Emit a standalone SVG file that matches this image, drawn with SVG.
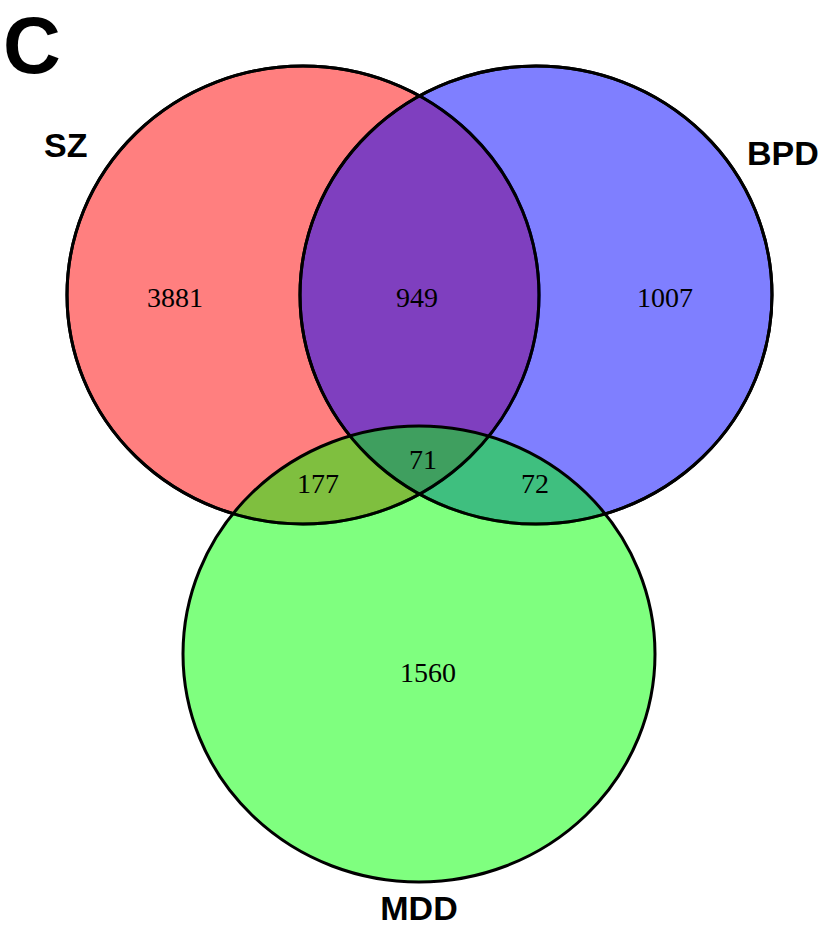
<svg xmlns="http://www.w3.org/2000/svg" width="823" height="926" viewBox="0 0 823 926">
<style>
.set{stroke:#000;stroke-width:3}
.lbl{font-family:"Liberation Sans",Arial,sans-serif;font-weight:bold;font-size:34px;fill:#000}
.num{font-family:"Liberation Serif","Times New Roman",serif;font-size:28px;fill:#000;text-anchor:middle}
</style>
<rect width="823" height="926" fill="#fff"/>
<text x="3" y="73" font-family="Liberation Sans, Arial, sans-serif" font-weight="bold" font-size="80" fill="#000">C</text>
<g id="connectors"></g>
<g id="SZ">
<ellipse class="set" cx="303" cy="295" rx="236" ry="229" fill="rgb(255,0,0)" fill-opacity="0.5"/>
</g>
<g id="BPD">
<ellipse class="set" cx="536" cy="295" rx="236" ry="229" fill="rgb(0,0,255)" fill-opacity="0.5"/>
</g>
<g id="MDD">
<ellipse class="set" cx="419" cy="654" rx="236" ry="228" fill="rgb(0,255,0)" fill-opacity="0.5"/>
</g>
<g id="outlines" fill="none">
<ellipse class="set" cx="303" cy="295" rx="236" ry="229"/>
<ellipse class="set" cx="536" cy="295" rx="236" ry="229"/>
</g>
<g id="labels">
<text class="lbl" x="44" y="157">SZ</text>
<text class="lbl" x="747" y="165">BPD</text>
<text class="lbl" x="419" y="920" text-anchor="middle">MDD</text>
</g>
<g id="counts">
<text class="num" x="175" y="307">3881</text>
<text class="num" x="417" y="307">949</text>
<text class="num" x="665" y="307">1007</text>
<text class="num" x="423" y="469">71</text>
<text class="num" x="318" y="493">177</text>
<text class="num" x="535" y="493">72</text>
<text class="num" x="428" y="682">1560</text>
</g>
</svg>
